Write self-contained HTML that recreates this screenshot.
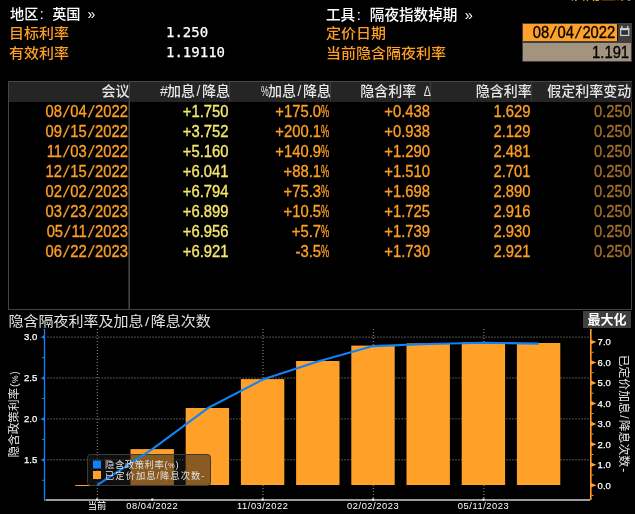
<!DOCTYPE html>
<html lang="zh-CN">
<head>
<meta charset="utf-8">
<title>WIRP</title>
<style>
html,body{margin:0;padding:0;background:#000;}
body{width:635px;height:514px;overflow:hidden;position:relative;font-family:"Liberation Sans","Noto Sans CJK SC",sans-serif;font-size:14.6px;color:#fff;font-weight:500;}
.t{position:absolute;white-space:nowrap;line-height:20px;height:20px;}
.n{transform:translateY(0.4px) scaleY(1.09);font-weight:400;font-size:14.8px;-webkit-text-stroke:0.3px;}
.h{display:inline-block;width:7.3px;text-align:center;}
.m{font-family:"DejaVu Sans Mono","Liberation Mono",monospace;font-size:14px;-webkit-text-stroke:0.25px;font-weight:400;}
.s{display:inline-block;width:8.3px;text-align:center;transform:skewX(-13deg);}
.p{display:inline-block;width:8px;transform:scaleX(.62);transform-origin:0 50%;}
.o{color:#ff9e24;}
.y{color:#f7e86a;}
.d{color:#a8702a;}
.w{color:#fff;}
.r{text-align:right;}
.hd{color:#e6e6e6;font-size:14px;}
.hd .h{width:7px;}
</style>
</head>
<body>
<div class="t o" style="left:571px;top:-15.6px;font-size:15px;">启用重设</div>
<div class="t w" style="left:10px;top:4px;font-size:14.2px">地区<span class="h" style="width:6.9px">:</span><span class="h" style="width:6.9px">&nbsp;</span>英国<span class="h" style="width:6.9px">&nbsp;</span><span class="h" style="width:6.9px">»</span></div>
<div class="t o" style="left:9px;top:23px;font-size:15px;transform:scaleY(.91)">目标利率</div>
<div class="t o" style="left:9px;top:43px;font-size:15px;transform:scaleY(.91)">有效利率</div>
<div class="t w m" style="left:166px;top:22px;">1.250</div>
<div class="t w m" style="left:166px;top:42px;">1.19110</div>
<div class="t w" style="left:326px;top:5px;">工具<span class="h">:</span><span class="h">&nbsp;</span>隔夜指数掉期<span class="h">&nbsp;</span><span class="h">»</span></div>
<div class="t o" style="left:326px;top:23px;font-size:15px;transform:scaleY(.91)">定价日期</div>
<div class="t o" style="left:326px;top:43px;font-size:15px;transform:scaleY(.91)">当前隐含隔夜利率</div>
<div style="position:absolute;left:522.4px;top:22.5px;width:110px;height:39.8px;background:#3f3f3f;"></div>
<div style="position:absolute;left:523.4px;top:23.5px;width:94px;height:17px;background:#ffa028;"></div>
<div class="t r n" style="left:524.3px;top:21.8px;width:91px;padding-right:3px;color:#000;">08<span class="s">/</span>04<span class="s">/</span>2022</div>
<div style="position:absolute;left:617.4px;top:23.5px;width:1.1px;height:17px;background:#111;"></div>
<svg style="position:absolute;left:619px;top:24px" width="12" height="14" viewBox="0 0 12 14"><rect x="1.7" y="4.6" width="8" height="6.8" fill="#303030" stroke="#cfcfcf" stroke-width="1.2"/><rect x="1.1" y="4" width="9.2" height="2.2" fill="#cfcfcf"/><rect x="2" y="1.9" width="1.6" height="2.5" fill="#bdbdbd"/><rect x="7.9" y="1.9" width="1.6" height="2.5" fill="#bdbdbd"/></svg>
<div style="position:absolute;left:523.4px;top:43.3px;width:108px;height:17.9px;background:#a39480;"></div>
<div class="t r n" style="left:524.1px;top:42.3px;width:105px;padding-right:3px;color:#000;">1.191</div>
<div style="position:absolute;left:8px;top:81px;width:624px;height:229px;border:1px solid #464646;box-sizing:border-box;"></div>
<div style="position:absolute;left:8px;top:81px;width:624px;height:20.5px;background:#252525;border-top:1px solid #464646;border-left:1px solid #464646;box-sizing:border-box;"></div>
<div style="position:absolute;left:128px;top:81px;width:2px;height:228px;background:linear-gradient(90deg,#2a2a2a 50%,#444 50%);"></div>
<div style="position:absolute;left:229px;top:82px;width:1px;height:19px;background:#3c3c3c;"></div>
<div style="position:absolute;left:330px;top:82px;width:1px;height:19px;background:#3c3c3c;"></div>
<div style="position:absolute;left:430px;top:82px;width:1px;height:19px;background:#3c3c3c;"></div>
<div style="position:absolute;left:531px;top:82px;width:1px;height:19px;background:#3c3c3c;"></div>
<div class="t r hd" style="left:9.5px;width:120px;top:81px;">会议</div>
<div class="t r hd" style="left:110.0px;width:120px;top:81px;"><span class="h">#</span>加息<span class="h">/</span>降息</div>
<div class="t r hd" style="left:211.0px;width:120px;top:81px;"><span class="p" style="width:7px">%</span>加息<span class="h">/</span>降息</div>
<div class="t r hd" style="left:310.2px;width:120px;top:81px;">隐含利率<span class="h">&nbsp;</span><span class="h" style="transform:scaleX(.76)">Δ</span></div>
<div class="t r hd" style="left:411.7px;width:120px;top:81px;">隐含利率</div>
<div class="t r hd" style="left:511.2px;width:120px;top:81px;">假定利率变动</div>
<div class="t r n o" style="left:8px;width:120px;top:101px;">08<span class="s">/</span>04<span class="s">/</span>2022</div>
<div class="t r n y" style="left:108.5px;width:120px;top:101px;">+1.750</div>
<div class="t r n o" style="left:209px;width:120px;top:101px;">+175.0<span class="p">%</span></div>
<div class="t r n o" style="left:310px;width:120px;top:101px;">+0.438</div>
<div class="t r n o" style="left:410.5px;width:120px;top:101px;">1.629</div>
<div class="t r n d" style="left:511px;width:120px;top:101px;">0.250</div>
<div class="t r n o" style="left:8px;width:120px;top:121px;">09<span class="s">/</span>15<span class="s">/</span>2022</div>
<div class="t r n y" style="left:108.5px;width:120px;top:121px;">+3.752</div>
<div class="t r n o" style="left:209px;width:120px;top:121px;">+200.1<span class="p">%</span></div>
<div class="t r n o" style="left:310px;width:120px;top:121px;">+0.938</div>
<div class="t r n o" style="left:410.5px;width:120px;top:121px;">2.129</div>
<div class="t r n d" style="left:511px;width:120px;top:121px;">0.250</div>
<div class="t r n o" style="left:8px;width:120px;top:141px;">11<span class="s">/</span>03<span class="s">/</span>2022</div>
<div class="t r n y" style="left:108.5px;width:120px;top:141px;">+5.160</div>
<div class="t r n o" style="left:209px;width:120px;top:141px;">+140.9<span class="p">%</span></div>
<div class="t r n o" style="left:310px;width:120px;top:141px;">+1.290</div>
<div class="t r n o" style="left:410.5px;width:120px;top:141px;">2.481</div>
<div class="t r n d" style="left:511px;width:120px;top:141px;">0.250</div>
<div class="t r n o" style="left:8px;width:120px;top:161px;">12<span class="s">/</span>15<span class="s">/</span>2022</div>
<div class="t r n y" style="left:108.5px;width:120px;top:161px;">+6.041</div>
<div class="t r n o" style="left:209px;width:120px;top:161px;">+88.1<span class="p">%</span></div>
<div class="t r n o" style="left:310px;width:120px;top:161px;">+1.510</div>
<div class="t r n o" style="left:410.5px;width:120px;top:161px;">2.701</div>
<div class="t r n d" style="left:511px;width:120px;top:161px;">0.250</div>
<div class="t r n o" style="left:8px;width:120px;top:181px;">02<span class="s">/</span>02<span class="s">/</span>2023</div>
<div class="t r n y" style="left:108.5px;width:120px;top:181px;">+6.794</div>
<div class="t r n o" style="left:209px;width:120px;top:181px;">+75.3<span class="p">%</span></div>
<div class="t r n o" style="left:310px;width:120px;top:181px;">+1.698</div>
<div class="t r n o" style="left:410.5px;width:120px;top:181px;">2.890</div>
<div class="t r n d" style="left:511px;width:120px;top:181px;">0.250</div>
<div class="t r n o" style="left:8px;width:120px;top:201px;">03<span class="s">/</span>23<span class="s">/</span>2023</div>
<div class="t r n y" style="left:108.5px;width:120px;top:201px;">+6.899</div>
<div class="t r n o" style="left:209px;width:120px;top:201px;">+10.5<span class="p">%</span></div>
<div class="t r n o" style="left:310px;width:120px;top:201px;">+1.725</div>
<div class="t r n o" style="left:410.5px;width:120px;top:201px;">2.916</div>
<div class="t r n d" style="left:511px;width:120px;top:201px;">0.250</div>
<div class="t r n o" style="left:8px;width:120px;top:221px;">05<span class="s">/</span>11<span class="s">/</span>2023</div>
<div class="t r n y" style="left:108.5px;width:120px;top:221px;">+6.956</div>
<div class="t r n o" style="left:209px;width:120px;top:221px;">+5.7<span class="p">%</span></div>
<div class="t r n o" style="left:310px;width:120px;top:221px;">+1.739</div>
<div class="t r n o" style="left:410.5px;width:120px;top:221px;">2.930</div>
<div class="t r n d" style="left:511px;width:120px;top:221px;">0.250</div>
<div class="t r n o" style="left:8px;width:120px;top:241px;">06<span class="s">/</span>22<span class="s">/</span>2023</div>
<div class="t r n y" style="left:108.5px;width:120px;top:241px;">+6.921</div>
<div class="t r n o" style="left:209px;width:120px;top:241px;">-3.5<span class="p">%</span></div>
<div class="t r n o" style="left:310px;width:120px;top:241px;">+1.730</div>
<div class="t r n o" style="left:410.5px;width:120px;top:241px;">2.921</div>
<div class="t r n d" style="left:511px;width:120px;top:241px;">0.250</div>
<div class="t" style="left:8.5px;top:311.6px;color:#e4e4e4;font-size:15px;font-weight:400;transform:scaleY(.89)">隐含隔夜利率及加息<span class="h">/</span>降息次数</div>
<div class="t" style="left:583px;top:311px;width:48px;height:17px;line-height:17px;background:#404040;text-align:center;font-weight:bold;font-size:13px;">最大化</div>
<svg style="position:absolute;left:0;top:0" width="635" height="514" viewBox="0 0 635 514" font-family="Liberation Sans, Noto Sans CJK SC, sans-serif" font-weight="400">
<line x1="47.5" x2="590" y1="459.8" y2="459.8" stroke="#a0a0a0" stroke-width="1" stroke-dasharray="1 2"/>
<line x1="47.5" x2="590" y1="418.9" y2="418.9" stroke="#a0a0a0" stroke-width="1" stroke-dasharray="1 2"/>
<line x1="47.5" x2="590" y1="378.0" y2="378.0" stroke="#a0a0a0" stroke-width="1" stroke-dasharray="1 2"/>
<line x1="47.5" x2="590" y1="337.1" y2="337.1" stroke="#a0a0a0" stroke-width="1" stroke-dasharray="1 2"/>
<line x1="97.4" x2="97.4" y1="329" y2="499" stroke="#6c6c6c" stroke-width="1.4" stroke-dasharray="1 2"/>
<line x1="263.0" x2="263.0" y1="329" y2="499" stroke="#6c6c6c" stroke-width="1.4" stroke-dasharray="1 2"/>
<line x1="373.4" x2="373.4" y1="329" y2="499" stroke="#6c6c6c" stroke-width="1.4" stroke-dasharray="1 2"/>
<line x1="483.8" x2="483.8" y1="329" y2="499" stroke="#6c6c6c" stroke-width="1.4" stroke-dasharray="1 2"/>
<rect x="75.3" y="485.0" width="43.4" height="1.0" fill="#ffa028"/>
<rect x="130.5" y="449.1" width="43.4" height="35.9" fill="#ffa028"/>
<rect x="185.7" y="408.0" width="43.4" height="77.0" fill="#ffa028"/>
<rect x="240.9" y="379.1" width="43.4" height="105.9" fill="#ffa028"/>
<rect x="296.1" y="361.0" width="43.4" height="124.0" fill="#ffa028"/>
<rect x="351.3" y="345.6" width="43.4" height="139.4" fill="#ffa028"/>
<rect x="406.5" y="343.4" width="43.4" height="141.6" fill="#ffa028"/>
<rect x="461.7" y="342.3" width="43.4" height="142.7" fill="#ffa028"/>
<rect x="516.9" y="343.0" width="43.4" height="142.0" fill="#ffa028"/>
<rect x="87.5" y="454.5" width="123" height="31" rx="3" fill="#1c1c1c" fill-opacity="0.52" stroke="#3a3a3a" stroke-width="1"/>
<polyline points="97.1,485.1 152.3,449.2 207.5,408.3 262.7,379.6 317.9,361.6 373.1,346.1 428.3,344.0 483.5,342.8 538.7,343.6" fill="none" stroke="#0e82f6" stroke-width="2.1" stroke-linejoin="round"/>
<rect x="93" y="460.5" width="8" height="8" fill="#0e82f6"/>
<rect x="93" y="471" width="8" height="8" fill="#ffa028"/>
<text x="105" y="468" font-size="9.3" fill="#e0e0e0" letter-spacing="0.6">隐含政策利率(<tspan font-size="7.6">%</tspan>)</text>
<text x="105" y="478.5" font-size="9.3" fill="#e0e0e0" letter-spacing="1">已定价加息/降息次数-</text>
<rect x="43.85" y="329" width="1.3" height="172" fill="#0e82f6"/>
<rect x="590" y="329" width="1.6" height="171" fill="#ffa028"/>
<rect x="45.6" y="499" width="544.4" height="2" fill="#9c9c9c"/>
<path d="M44.2 457.2 Q43 459.8 38.8 459.8 Q43 459.8 44.2 462.4 Z" fill="#0e82f6"/>
<text x="37.3" y="463.1" font-size="9.5" fill="#fff" stroke="#fff" stroke-width="0.25" text-anchor="end">1.5</text>
<path d="M44.2 416.3 Q43 418.9 38.8 418.9 Q43 418.9 44.2 421.5 Z" fill="#0e82f6"/>
<text x="37.3" y="422.2" font-size="9.5" fill="#fff" stroke="#fff" stroke-width="0.25" text-anchor="end">2.0</text>
<path d="M44.2 375.4 Q43 378.0 38.8 378.0 Q43 378.0 44.2 380.6 Z" fill="#0e82f6"/>
<text x="37.3" y="381.3" font-size="9.5" fill="#fff" stroke="#fff" stroke-width="0.25" text-anchor="end">2.5</text>
<path d="M44.2 334.5 Q43 337.1 38.8 337.1 Q43 337.1 44.2 339.7 Z" fill="#0e82f6"/>
<text x="37.3" y="340.4" font-size="9.5" fill="#fff" stroke="#fff" stroke-width="0.25" text-anchor="end">3.0</text>
<rect x="42" y="479.8" width="2" height="1" fill="#0e82f6"/>
<rect x="42" y="438.9" width="2" height="1" fill="#0e82f6"/>
<rect x="42" y="398.0" width="2" height="1" fill="#0e82f6"/>
<rect x="42" y="357.1" width="2" height="1" fill="#0e82f6"/>
<path d="M591 482.9 L596.4 485.2 L591 487.5 Z" fill="#ffa028"/>
<text x="597.6" y="488.5" font-size="9.5" fill="#fff" stroke="#fff" stroke-width="0.25">0.0</text>
<path d="M591 462.4 L596.4 464.8 L591 467.1 Z" fill="#ffa028"/>
<text x="597.6" y="468.1" font-size="9.5" fill="#fff" stroke="#fff" stroke-width="0.25">1.0</text>
<path d="M591 442.0 L596.4 444.3 L591 446.6 Z" fill="#ffa028"/>
<text x="597.6" y="447.6" font-size="9.5" fill="#fff" stroke="#fff" stroke-width="0.25">2.0</text>
<path d="M591 421.6 L596.4 423.9 L591 426.2 Z" fill="#ffa028"/>
<text x="597.6" y="427.2" font-size="9.5" fill="#fff" stroke="#fff" stroke-width="0.25">3.0</text>
<path d="M591 401.1 L596.4 403.4 L591 405.7 Z" fill="#ffa028"/>
<text x="597.6" y="406.7" font-size="9.5" fill="#fff" stroke="#fff" stroke-width="0.25">4.0</text>
<path d="M591 380.6 L596.4 382.9 L591 385.2 Z" fill="#ffa028"/>
<text x="597.6" y="386.2" font-size="9.5" fill="#fff" stroke="#fff" stroke-width="0.25">5.0</text>
<path d="M591 360.2 L596.4 362.5 L591 364.8 Z" fill="#ffa028"/>
<text x="597.6" y="365.8" font-size="9.5" fill="#fff" stroke="#fff" stroke-width="0.25">6.0</text>
<path d="M591 339.7 L596.4 342.0 L591 344.3 Z" fill="#ffa028"/>
<text x="597.6" y="345.3" font-size="9.5" fill="#fff" stroke="#fff" stroke-width="0.25">7.0</text>
<rect x="591.5" y="494.9" width="2" height="1" fill="#ffa028"/>
<rect x="591.5" y="474.5" width="2" height="1" fill="#ffa028"/>
<rect x="591.5" y="454.0" width="2" height="1" fill="#ffa028"/>
<rect x="591.5" y="433.6" width="2" height="1" fill="#ffa028"/>
<rect x="591.5" y="413.1" width="2" height="1" fill="#ffa028"/>
<rect x="591.5" y="392.7" width="2" height="1" fill="#ffa028"/>
<rect x="591.5" y="372.2" width="2" height="1" fill="#ffa028"/>
<rect x="591.5" y="351.8" width="2" height="1" fill="#ffa028"/>
<text x="97.1" y="509" font-size="9.3" fill="#fff" text-anchor="middle">当前</text>
<rect x="96.1" y="498.5" width="2" height="2" fill="#fff"/>
<text x="152.3" y="509" font-size="9.3" fill="#fff" text-anchor="middle" letter-spacing="0.55">08/04/2022</text>
<rect x="151.3" y="498.5" width="2" height="2" fill="#fff"/>
<text x="262.7" y="509" font-size="9.3" fill="#fff" text-anchor="middle" letter-spacing="0.55">11/03/2022</text>
<rect x="261.7" y="498.5" width="2" height="2" fill="#fff"/>
<text x="373.1" y="509" font-size="9.3" fill="#fff" text-anchor="middle" letter-spacing="0.55">02/02/2023</text>
<rect x="372.1" y="498.5" width="2" height="2" fill="#fff"/>
<text x="483.5" y="509" font-size="9.3" fill="#fff" text-anchor="middle" letter-spacing="0.55">05/11/2023</text>
<rect x="482.5" y="498.5" width="2" height="2" fill="#fff"/>
<text transform="translate(18.2,414.4) rotate(-90)" font-size="11.6" fill="#e6e6e6" text-anchor="middle">隐含政策利率<tspan font-size="10.5" dx="1">(</tspan><tspan font-size="8.5" dx="0.5">%</tspan><tspan font-size="10.5" dx="0.5">)</tspan></text>
<text transform="translate(619.8,413.5) rotate(90)" font-size="11.85" fill="#e6e6e6" text-anchor="middle">已定价加息<tspan dx="1.3">/</tspan><tspan dx="1.3">降息次数</tspan><tspan dx="1.2">-</tspan></text>
</svg>
</body>
</html>
